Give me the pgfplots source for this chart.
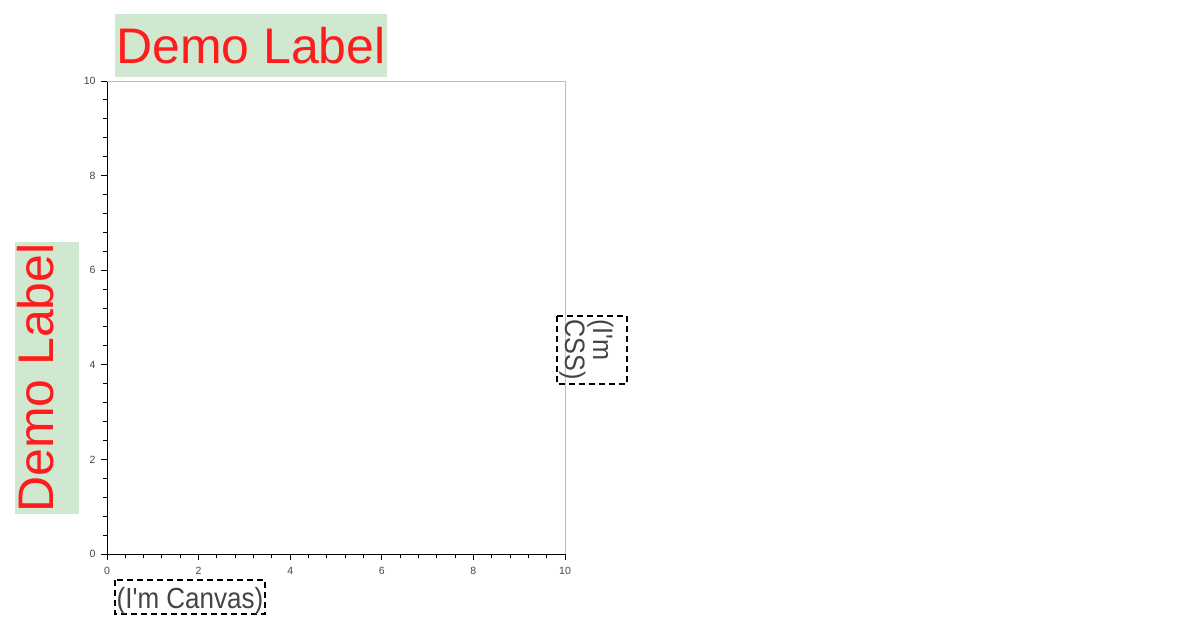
\documentclass[border=0pt]{standalone}
\usepackage{pgfplots}
\pgfplotsset{compat=1.18}
\usepackage{graphicx}
\usepackage{fontspec}
\setmainfont{Liberation Sans}[Ligatures=TeXOff]
\definecolor{lblred}{RGB}{255,28,28}
\definecolor{lblgreen}{RGB}{208,232,208}
\definecolor{tickgray}{RGB}{68,68,68}
\definecolor{framegray}{RGB}{190,190,190}
\begin{document}
\begin{tikzpicture}[x=1pt,y=1pt]
\useasboundingbox (0,0) rectangle (1184,-630);
\begin{axis}[
  at={(107pt,-554pt)}, anchor=south west,
  scale only axis, width=458pt, height=473pt,
  xmin=0, xmax=10, ymin=0, ymax=10,
  clip=false,
  axis x line*=bottom, axis y line*=left,
  axis line style={black, line width=1pt, -},
  xtick={0,2,4,6,8,10}, ytick={0,2,4,6,8,10},
  minor tick num=4,
  tick align=outside,
  major tick length=6pt, minor tick length=4pt,
  every tick/.style={black, line width=1pt},
  ticklabel style={font=\fontsize{10.5}{12}\selectfont, text=tickgray},
  /pgf/number format/assume math mode=true,
  xticklabel style={yshift=-4pt},
  yticklabel style={xshift=-2pt},
]
\draw[framegray, line width=1pt] (rel axis cs:0,1) -- (rel axis cs:1,1) -- (rel axis cs:1,0);
\end{axis}
% top label
\fill[lblgreen] (115,-14) rectangle (387,-77);
\node[anchor=base, inner sep=0, text=lblred, font=\fontsize{50}{55}\selectfont] at (251,-63) {Demo Label};
% left label
\fill[lblgreen] (15,-242) rectangle (79,-514);
\node[anchor=base, inner sep=0, rotate=90, text=lblred, font=\fontsize{50}{55}\selectfont] at (53,-378) {Demo Label};
% canvas label
\draw[black, line width=1.8pt, dash pattern=on 6pt off 4pt] (115,-580) rectangle (265,-614);
\node[anchor=base, inner sep=0, text=tickgray, font=\fontsize{26}{27}\selectfont] at (190,-608) {\scalebox{1.0}[1.12]{(I'm Canvas)}};
% css label
\draw[black, line width=1.8pt, dash pattern=on 6pt off 4pt] (557,-316) rectangle (627,-384);
\node[anchor=base west, inner sep=0, rotate=-90, text=tickgray, font=\fontsize{26}{27}\selectfont] at (593,-319) {\scalebox{0.97}[1.08]{(I'm}};
\node[anchor=base west, inner sep=0, rotate=-90, text=tickgray, font=\fontsize{26}{27}\selectfont] at (565,-319) {\scalebox{0.97}[1.08]{CSS)}};
\end{tikzpicture}
\end{document}
